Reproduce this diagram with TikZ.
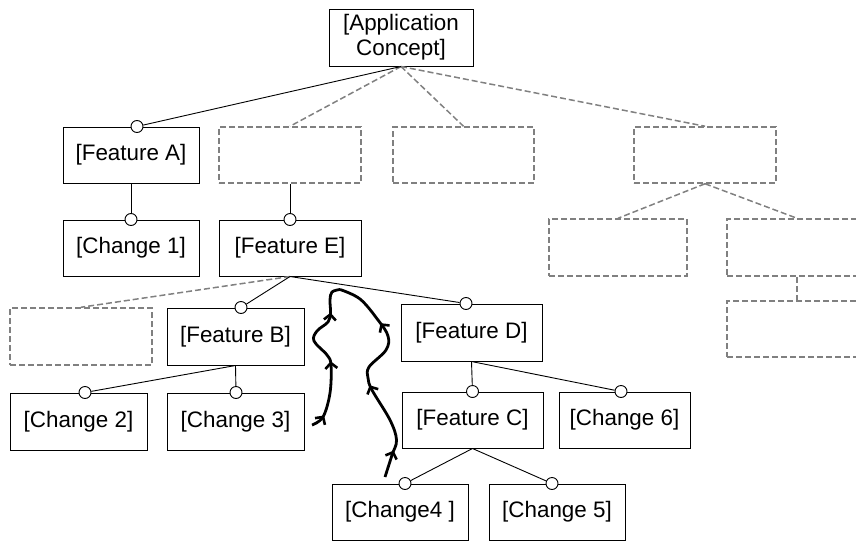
\documentclass[tikz,border=0pt]{standalone}
\usepackage{fontspec}
\setmainfont{Liberation Sans}
\usetikzlibrary{decorations.markings,arrows.meta}
\definecolor{dgray}{HTML}{808080}
\begin{document}
\begin{tikzpicture}[x=1pt,y=-1pt,
  box/.style={draw=black,line width=1pt,minimum height=56pt,inner sep=0pt,
    font=\fontsize{22.4}{25}\selectfont,align=center},
  ghost/.style={draw=dgray,line width=1.5pt,dash pattern=on 6pt off 3pt,
    minimum height=56pt,inner sep=0pt},
  pin/.style={circle,draw=black,fill=white,line width=0.9pt,minimum size=12pt,inner sep=0pt},
  link/.style={draw=black,line width=0.9pt},
  dlink/.style={draw=dgray,line width=1.5pt,dash pattern=on 6pt off 3pt},
  flow/.style={line width=2.8pt,line join=round,postaction={decorate}},
  tipmark/.style={decoration={markings,
    mark=at position #1 with {\draw[line width=2.6pt,line cap=butt,line join=miter]
      (-4pt,6pt) -- (1.5pt,0pt) -- (-4pt,-6pt);}}},
  flowL/.style={flow,decoration={markings,
    mark=at position 0.08 with {\draw[line width=2.6pt,line join=miter] (-4.5pt,6pt) -- (1pt,0pt) -- (-4.5pt,-6pt);},
    mark=at position 0.42 with {\draw[line width=2.6pt,line join=miter] (-4.5pt,6pt) -- (1pt,0pt) -- (-4.5pt,-6pt);},
    mark=at position 0.80 with {\draw[line width=2.6pt,line join=miter] (-4.5pt,6pt) -- (1pt,0pt) -- (-4.5pt,-6pt);}}},
  flowR/.style={flow,decoration={markings,
    mark=at position 0.11 with {\draw[line width=2.6pt,line join=miter] (-4.5pt,6pt) -- (1pt,0pt) -- (-4.5pt,-6pt);},
    mark=at position 0.43 with {\draw[line width=2.6pt,line join=miter] (-4.5pt,6pt) -- (1pt,0pt) -- (-4.5pt,-6pt);},
    mark=at position 0.75 with {\draw[line width=2.6pt,line join=miter] (-4.5pt,6pt) -- (1pt,0pt) -- (-4.5pt,-6pt);}}}
]
\useasboundingbox (0,0) rectangle (856,541);
\clip (0,0) rectangle (856,541);

% boxes
\node[box,minimum width=144pt,minimum height=57pt] (app) at (401,37.5) {[Application\\Concept]};
\node[box,minimum width=136pt] (fa) at (131,155) {[Feature A]};
\node[ghost,minimum width=142pt] (g2) at (290,155) {};
\node[ghost,minimum width=141pt] (g3) at (463.5,155) {};
\node[ghost,minimum width=142pt] (g4) at (705,155) {};
\node[box,minimum width=136pt] (c1) at (131,248) {[Change 1]};
\node[box,minimum width=142pt] (fe) at (290,248) {[Feature E]};
\node[ghost,minimum width=138pt,minimum height=57pt] (g5) at (618,247.5) {};
\node[ghost,minimum width=140pt,minimum height=57pt] (g6) at (797,247.5) {};
\node[ghost,minimum width=140pt] (g7) at (797,329) {};
\node[ghost,minimum width=142pt,minimum height=57pt] (g8) at (81,336.5) {};
\node[box,minimum width=137pt,minimum height=57pt] (fb) at (235.5,336.5) {[Feature B]};
\node[box,minimum width=137pt,minimum height=57pt] (c2) at (78.5,421.5) {[Change 2]};
\node[box,minimum width=137pt,minimum height=57pt] (c3) at (235.5,421.5) {[Change 3]};
\node[box,minimum width=141pt,minimum height=57pt] (fd) at (471.5,332.5) {[Feature D]};
\node[box,minimum width=141pt] (fc) at (472.5,420) {[Feature C]};
\node[box,minimum width=131pt] (c6) at (624.5,420) {[Change 6]};
\node[box,minimum width=136pt] (c4) at (400,512) {[Change4 ]};
\node[box,minimum width=136pt] (c5) at (557,512) {[Change 5]};

% dashed connectors
\path[dlink] (app.south) -- (g2.north);
\path[dlink] (app.south) -- (g3.north);
\path[dlink] (app.south) -- (g4.north);
\path[dlink] (g4.south) -- (g5.north);
\path[dlink] (g4.south) -- (g6.north);
\path[dlink] (g6.south) -- (g7.north);
\path[dlink] (fe.south) -- (g8.north);

% circles
\node[pin] (pA) at ([xshift=6pt]fa.north) {};
\node[pin] (p1) at (c1.north) {};
\node[pin] (pE) at (fe.north) {};
\node[pin] (pB) at ([xshift=5.5pt]fb.north) {};
\node[pin] (p2) at ([xshift=6.5pt]c2.north) {};
\node[pin] (p3) at ([xshift=0.5pt]c3.north) {};
\node[pin] (pD) at ([xshift=-5.5pt]fd.north) {};
\node[pin] (pC) at (fc.north) {};
\node[pin] (p6) at ([xshift=-3.5pt]c6.north) {};
\node[pin] (p4) at ([xshift=5pt]c4.north) {};
\node[pin] (p5) at ([xshift=-5pt]c5.north) {};

% solid connectors
\path[link] (app.south) -- (pA);
\path[link] (fa.south) -- (p1);
\path[link] (g2.south) -- (pE);
\path[link] (fe.south) -- (pB);
\path[link] (fe.south) -- (pD);
\path[link] (fb.south) -- (p2);
\path[link] (fb.south) -- (p3);
\path[link] (fd.south) -- (pC);
\path[link] (fd.south) -- (p6);
\path[link] (fc.south) -- (p4);
\path[link] (fc.south) -- (p5);

% thick flow curves
\coordinate (top) at (340,289.5);
\coordinate (s1) at (312,425);
\coordinate (s2) at (385,477);
\draw[flowL] plot[smooth,tension=0.6] coordinates {(s1) (323,417) (330,393) (331,365) (327,355) (314,341) (317,331) (328,322) (330.5,313) (330,300) (332,292) (top)};
\draw[flowR] plot[smooth,tension=0.6] coordinates {(s2) (392,455) (396.5,440) (390,420) (372,390) (368,378) (369,367) (386,350) (388,336) (378,320) (360,299) (top)};
\end{tikzpicture}
\end{document}
